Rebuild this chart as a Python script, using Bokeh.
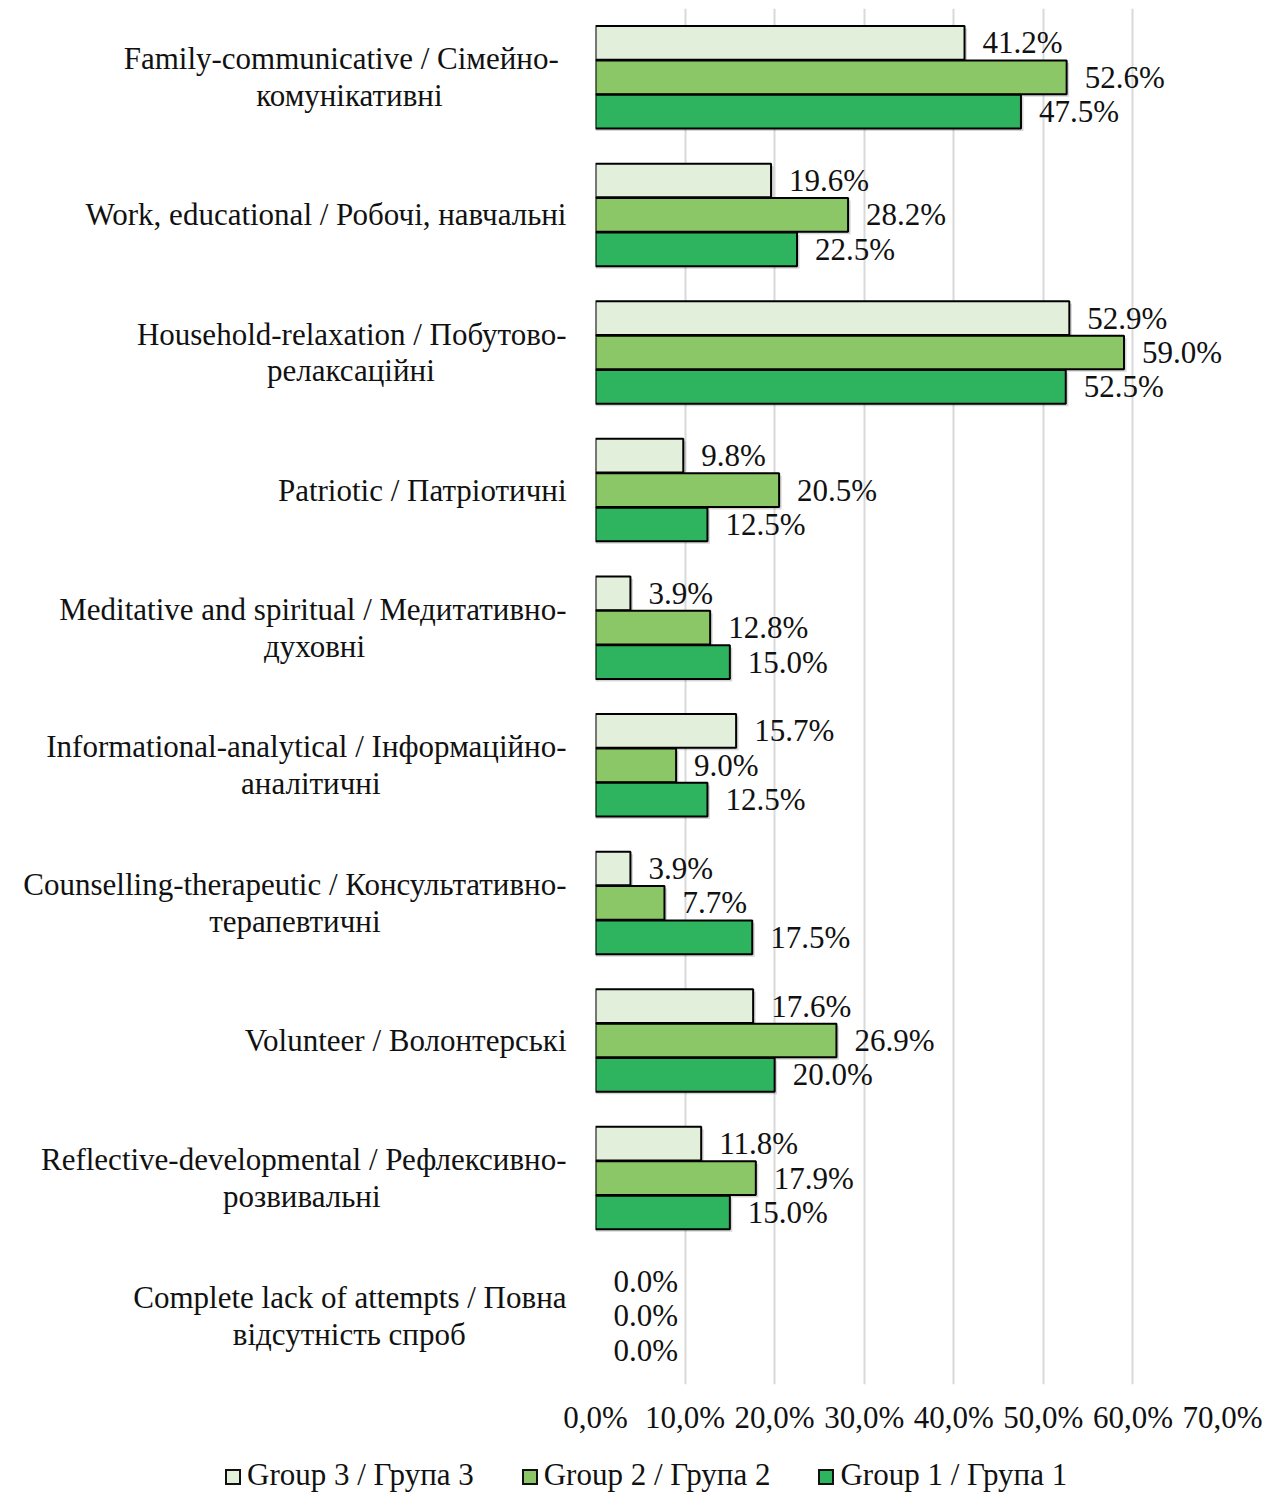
from bokeh.plotting import figure
from bokeh.layouts import column
from bokeh.models import ColumnDataSource, FixedTicker, LabelSet, Div
from bokeh.embed import file_html
from bokeh.resources import INLINE

categories = [
    "Family-communicative  / Сімейно-\nкомунікативні",
    "Work, educational / Робочі, навчальні",
    "Household-relaxation / Побутово-\nрелаксаційні",
    "Patriotic / Патріотичні",
    "Meditative and spiritual / Медитативно-\nдуховні",
    "Informational-analytical / Інформаційно-\nаналітичні",
    "Counselling-therapeutic / Консультативно-\nтерапевтичні",
    "Volunteer / Волонтерські",
    "Reflective-developmental / Рефлексивно-\nрозвивальні",
    "Complete lack of attempts / Повна\nвідсутність спроб",
]
group3 = [41.2, 19.6, 52.9, 9.8, 3.9, 15.7, 3.9, 17.6, 11.8, 0.0]
group2 = [52.6, 28.2, 59.0, 20.5, 12.8, 9.0, 7.7, 26.9, 17.9, 0.0]
group1 = [47.5, 22.5, 52.5, 12.5, 15.0, 12.5, 17.5, 20.0, 15.0, 0.0]
series_names = ["Group 3 / Група 3", "Group 2 / Група 2", "Group 1 / Група 1"]
x_ticks = [0, 10, 20, 30, 40, 50, 60, 70]
x_tick_labels = ["0,0%", "10,0%", "20,0%", "30,0%", "40,0%", "50,0%", "60,0%", "70,0%"]

# layout only: non-breaking-space padding that centres a wrapped second line under the first
line2_pad = [16, 0, 17, 0, 26, 24, 24, 0, 24, 13]

colors = ["#E2EFDA", "#8BC766", "#2EB35F"]
offsets = [0.25, 0.0, -0.25]
bar_h = 0.245
FONT = "Liberation Serif"
FS = "31px"

n = len(categories)
p = figure(frame_width=627, frame_height=1376, x_range=(0, 70), y_range=(-n + 0.5, 0.5),
           output_backend="svg", toolbar_location=None,
           min_border_left=595, min_border_right=40, min_border_top=8, min_border_bottom=60)

# soft drop shadow under the bars (offset a few pixels down/right)
px_y = 1.0 / 137.6
px_x = 70.0 / 627
for k, vals in enumerate([group3, group2, group1]):
    ys = [-i + offsets[k] - 2.5 * px_y for i in range(n)]
    sh = ColumnDataSource(dict(y=ys, v=[v + 2.5 * px_x if v > 0 else 0 for v in vals]))
    p.hbar(y="y", left=0, right="v", height=bar_h, source=sh,
           fill_color="#000000", fill_alpha=0.16, line_color=None)

for k, vals in enumerate([group3, group2, group1]):
    ys = [-i + offsets[k] for i in range(n)]
    src = ColumnDataSource(dict(
        y=ys, v=vals,
        lbl=[f"{v:.1f}%" for v in vals],
        la=[1.0 if v > 0 else 0.0 for v in vals],
    ))
    p.hbar(y="y", left=0, right="v", height=bar_h, source=src,
           fill_color=colors[k], line_color="black", line_width=2, line_alpha="la")
    labels = LabelSet(x="v", y="y", text="lbl", source=src, x_offset=18, y_offset=0,
                      text_font=FONT, text_font_size=FS, text_color="#111111",
                      text_baseline="middle", text_align="left")
    p.add_layout(labels)

p.xaxis.ticker = FixedTicker(ticks=x_ticks)
p.xaxis.major_label_overrides = {t: s for t, s in zip(x_ticks, x_tick_labels)}
p.xaxis.axis_line_color = None
p.xaxis.major_tick_line_color = None
p.xaxis.minor_tick_line_color = None
p.xaxis.major_label_standoff = 9
p.xaxis.major_label_text_font = FONT
p.xaxis.major_label_text_font_size = FS
p.xaxis.major_label_text_color = "#111111"

def padded(label, pad):
    if "\n" not in label or pad == 0:
        return label
    a, b = label.split("\n")
    return a + "\n" + b + "\u00a0" * pad

p.yaxis.ticker = FixedTicker(ticks=[-i for i in range(n)])
p.yaxis.major_label_overrides = {-i: padded(c, line2_pad[i]) for i, c in enumerate(categories)}
p.yaxis.axis_line_color = None
p.yaxis.major_tick_line_color = None
p.yaxis.minor_tick_line_color = None
p.yaxis.major_label_standoff = 23
p.yaxis.major_label_text_font = FONT
p.yaxis.major_label_text_font_size = FS
p.yaxis.major_label_text_line_height = 1.05
p.yaxis.major_label_text_color = "#111111"

p.xgrid.grid_line_color = "#D9D9D9"
p.xgrid.grid_line_width = 2
p.ygrid.grid_line_color = None
p.outline_line_color = None

# legend strip below the chart
swatch = ('<span style="display:inline-block;box-sizing:border-box;width:16px;height:16px;'
          'background:{c};border:2px solid #111;margin-right:6px;vertical-align:baseline"></span>')
parts = []
for k, name in enumerate(series_names):
    gap = "" if k == 0 else '<span style="display:inline-block;width:48px"></span>'
    parts.append(gap + swatch.format(c=colors[k]) + name)
legend_html = ('<div style="font-family:\'Liberation Serif\';font-size:31px;color:#111111;'
               'white-space:nowrap;line-height:31px;padding-left:225px;padding-top:15px">'
               + "".join(parts) + "</div>")
legend_div = Div(text=legend_html, width=1262, height=48, margin=(0, 0, 0, 0))

layout = column(p, legend_div, spacing=0)
open("out.html", "w").write(file_html(layout, INLINE))
